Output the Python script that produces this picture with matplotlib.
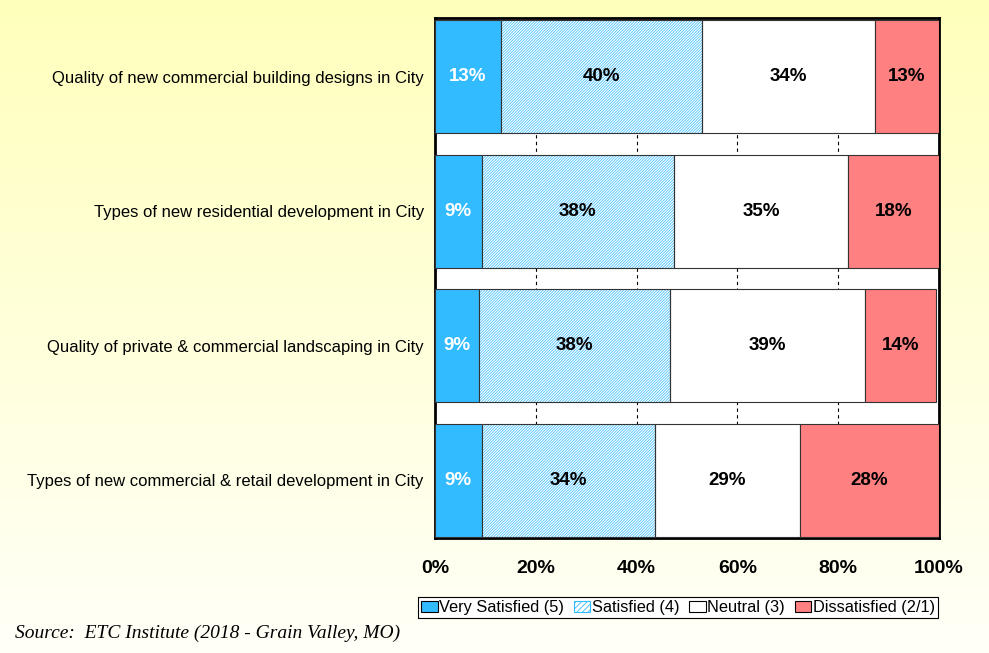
import numpy as np
import matplotlib.pyplot as plt
from matplotlib.patches import Patch

categories = [
    'Quality of new commercial building designs in City',
    'Types of new residential development in City',
    'Quality of private & commercial landscaping in City',
    'Types of new commercial & retail development in City',
]
very_satisfied = [13.1, 9.3, 8.7, 9.3]
satisfied = [39.9, 38.1, 37.9, 34.4]
neutral = [34.3, 34.6, 38.7, 28.7]
dissatisfied = [12.7, 18.0, 14.1, 27.6]
shown = [
    ['13%', '40%', '34%', '13%'],
    ['9%', '38%', '35%', '18%'],
    ['9%', '38%', '39%', '14%'],
    ['9%', '34%', '29%', '28%'],
]
series_names = ['Very Satisfied (5)', 'Satisfied (4)', 'Neutral (3)', 'Dissatisfied (2/1)']
xticks = [0, 20, 40, 60, 80, 100]

blue = '#33BBFF'
red = '#FF8080'
edge = '#333333'

plt.rcParams['font.family'] = ['Liberation Sans', 'DejaVu Sans']
plt.rcParams['hatch.linewidth'] = 0.6

fig = plt.figure(figsize=(9.89, 6.53), dpi=100)

# gradient background
bg = fig.add_axes([0, 0, 1, 1], zorder=-10)
grad = np.linspace(0, 1, 256).reshape(-1, 1)
top = np.array([255, 255, 188]) / 255
bot = np.array([255, 255, 248]) / 255
img = top + (bot - top) * grad[:, :, None]
bg.imshow(img, aspect='auto', extent=[0, 1, 0, 1])
bg.axis('off')

ax = fig.add_axes([0.4398, 0.1761, 0.5096, 0.7963])
ax.set_facecolor('white')
y = np.arange(len(categories))
h = 0.84

left = np.zeros(len(categories))
ax.barh(y, very_satisfied, h, left=left, color=blue, edgecolor=edge, linewidth=0.8, zorder=3)
left += very_satisfied
ax.barh(y, satisfied, h, left=left, color='white', edgecolor='#4CC3FF', hatch='/' * 12, linewidth=0, zorder=3)
ax.barh(y, satisfied, h, left=left, color='none', edgecolor=edge, linewidth=0.8, zorder=4)
left += satisfied
ax.barh(y, neutral, h, left=left, color='white', edgecolor=edge, linewidth=0.8, zorder=3)
left += neutral
ax.barh(y, dissatisfied, h, left=left, color=red, edgecolor=edge, linewidth=0.8, zorder=3)

for i in range(len(categories)):
    segs = [very_satisfied[i], satisfied[i], neutral[i], dissatisfied[i]]
    start = 0
    for j, s in enumerate(segs):
        ax.text(start + s / 2, y[i], shown[i][j], ha='center', va='center',
                fontsize=13.5, fontweight='bold', color='white' if j == 0 else 'black', zorder=5)
        start += s

ax.set_xlim(0, 100)
ax.set_ylim(3.431, -0.435)
ax.set_yticks(y)
ax.set_yticklabels(categories, fontsize=12)
ax.set_xticks(xticks)
ax.set_xticklabels([f'{t}%' for t in xticks], fontsize=14, fontweight='bold')
ax.tick_params(length=0, pad=16)
ax.tick_params(axis='y', pad=8)
ax.grid(axis='x', color='black', linestyle=(0, (3, 3)), linewidth=0.8, zorder=1)
for sp in ax.spines.values():
    sp.set_linewidth(2)

handles = [
    Patch(facecolor=blue, edgecolor='black', linewidth=0.8),
    Patch(facecolor='white', edgecolor=blue, hatch='//////', linewidth=0.8),
    Patch(facecolor='white', edgecolor='black', linewidth=0.8),
    Patch(facecolor=red, edgecolor='black', linewidth=0.8),
]
leg = fig.legend(handles, series_names, loc='center', bbox_to_anchor=(0.6855, 0.0697), ncol=4,
                 fontsize=11.8, frameon=True, fancybox=False, edgecolor='black', framealpha=1,
                 handlelength=1.0, handleheight=0.7, handletextpad=0.1, columnspacing=0.6,
                 borderpad=0.2, borderaxespad=0)
leg.get_frame().set_linewidth(0.8)

fig.text(0.015, 0.03, 'Source:  ETC Institute (2018 - Grain Valley, MO)', fontsize=14,
         style='italic', family=['Liberation Serif', 'DejaVu Serif'], va='center')

fig.savefig('out.png', dpi=100)
